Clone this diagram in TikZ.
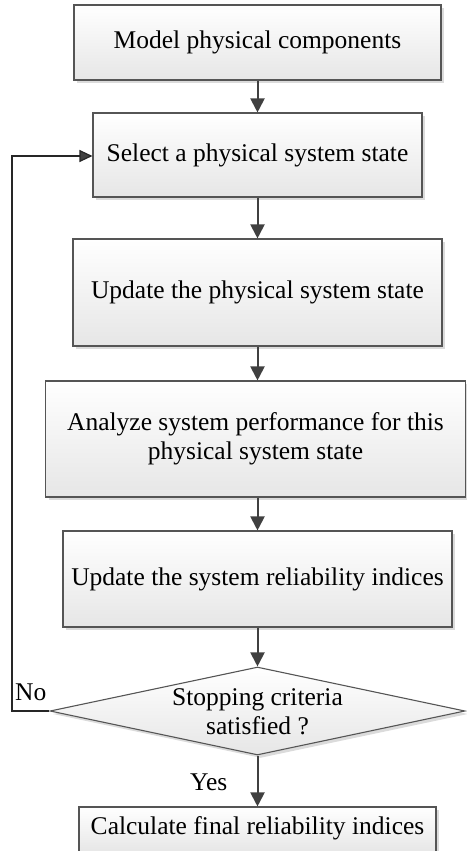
\documentclass[tikz,border=0pt]{standalone}
\usepackage{fontspec}
\setmainfont{Liberation Serif}
\usetikzlibrary{arrows.meta,shapes.geometric,shadows}

\definecolor{edgegray}{HTML}{555555}
\definecolor{arrowgray}{HTML}{404040}
\definecolor{shadegray}{HTML}{E6E6E6}

\tikzset{
  procbox/.style={rectangle, draw=edgegray, line width=1.1pt,
    top color=white, bottom color=shadegray, inner sep=0pt,
    drop shadow={shadow xshift=3pt, shadow yshift=-3pt, fill=black!14, opacity=1},
    font=\fontsize{25.5}{29}\selectfont, align=center},
  decbox/.style={diamond, draw=edgegray, line width=1.1pt,
    top color=white, bottom color=shadegray, inner sep=0pt,
    drop shadow={shadow xshift=3pt, shadow yshift=-3pt, fill=black!14, opacity=1}},
  lbl/.style={font=\fontsize{25.5}{29}\selectfont, align=center, inner sep=0pt},
  flow/.style={draw=arrowgray, line width=2pt,
    -{Triangle[length=14pt,width=14pt]}},
  loopback/.style={draw=black!85, line width=1.2pt,
    -{Triangle[length=13pt,width=12pt,fill=arrowgray]}},
}

\begin{document}
\begin{tikzpicture}[x=1pt, y=-1pt]
\useasboundingbox (0,0) rectangle (466,851);

% process steps
\node[procbox, minimum width=367pt, minimum height=75pt]  (b1) at (257.5,42.5)  {Model physical components};
\node[procbox, minimum width=329pt, minimum height=84pt]  (b2) at (257.5,155)   {Select a physical system state};
\node[procbox, minimum width=369pt, minimum height=107pt] (b3) at (257.5,292.5) {Update the physical system state};
\node[procbox, minimum width=420pt, minimum height=116pt] (b4) at (255.5,439)   {Analyze system performance for this\\physical system state};
\node[procbox, minimum width=389pt, minimum height=96pt]  (b5) at (257.5,579)   {Update the system reliability indices};

% decision
\node[decbox, minimum width=415pt, minimum height=88pt] (dec) at (257.5,711) {};
\node[lbl] (dectext) at (257.5,712) {Stopping criteria\\satisfied ?};

% final step
\node[procbox, minimum width=357pt, minimum height=46pt] (b6) at (257.5,830) {};
\node[lbl] (b6text) at (257.5,828) {Calculate final reliability indices};

% main flow
\draw[flow] (b1.south) -- (b2.north);
\draw[flow] (b2.south) -- (b3.north);
\draw[flow] (b3.south) -- (b3.south |- b4.north);
\draw[flow] (b5.north |- b4.south) -- (b5.north);
\draw[flow] (b5.south) -- (dec.north);
\draw[flow] (dec.south) -- (b6.north);

% loop back when the criteria are not met
\coordinate (lb) at (12,711);
\coordinate (lt) at (12,156);
\draw[loopback] (dec.west) -- (lb) -- (lt) -- (b2.west |- lt);

% branch labels
\node[lbl, anchor=base west] (no) at (15,700) {No};
\node[lbl, anchor=base west] (yes) at (190,790) {Yes};
\end{tikzpicture}
\end{document}
